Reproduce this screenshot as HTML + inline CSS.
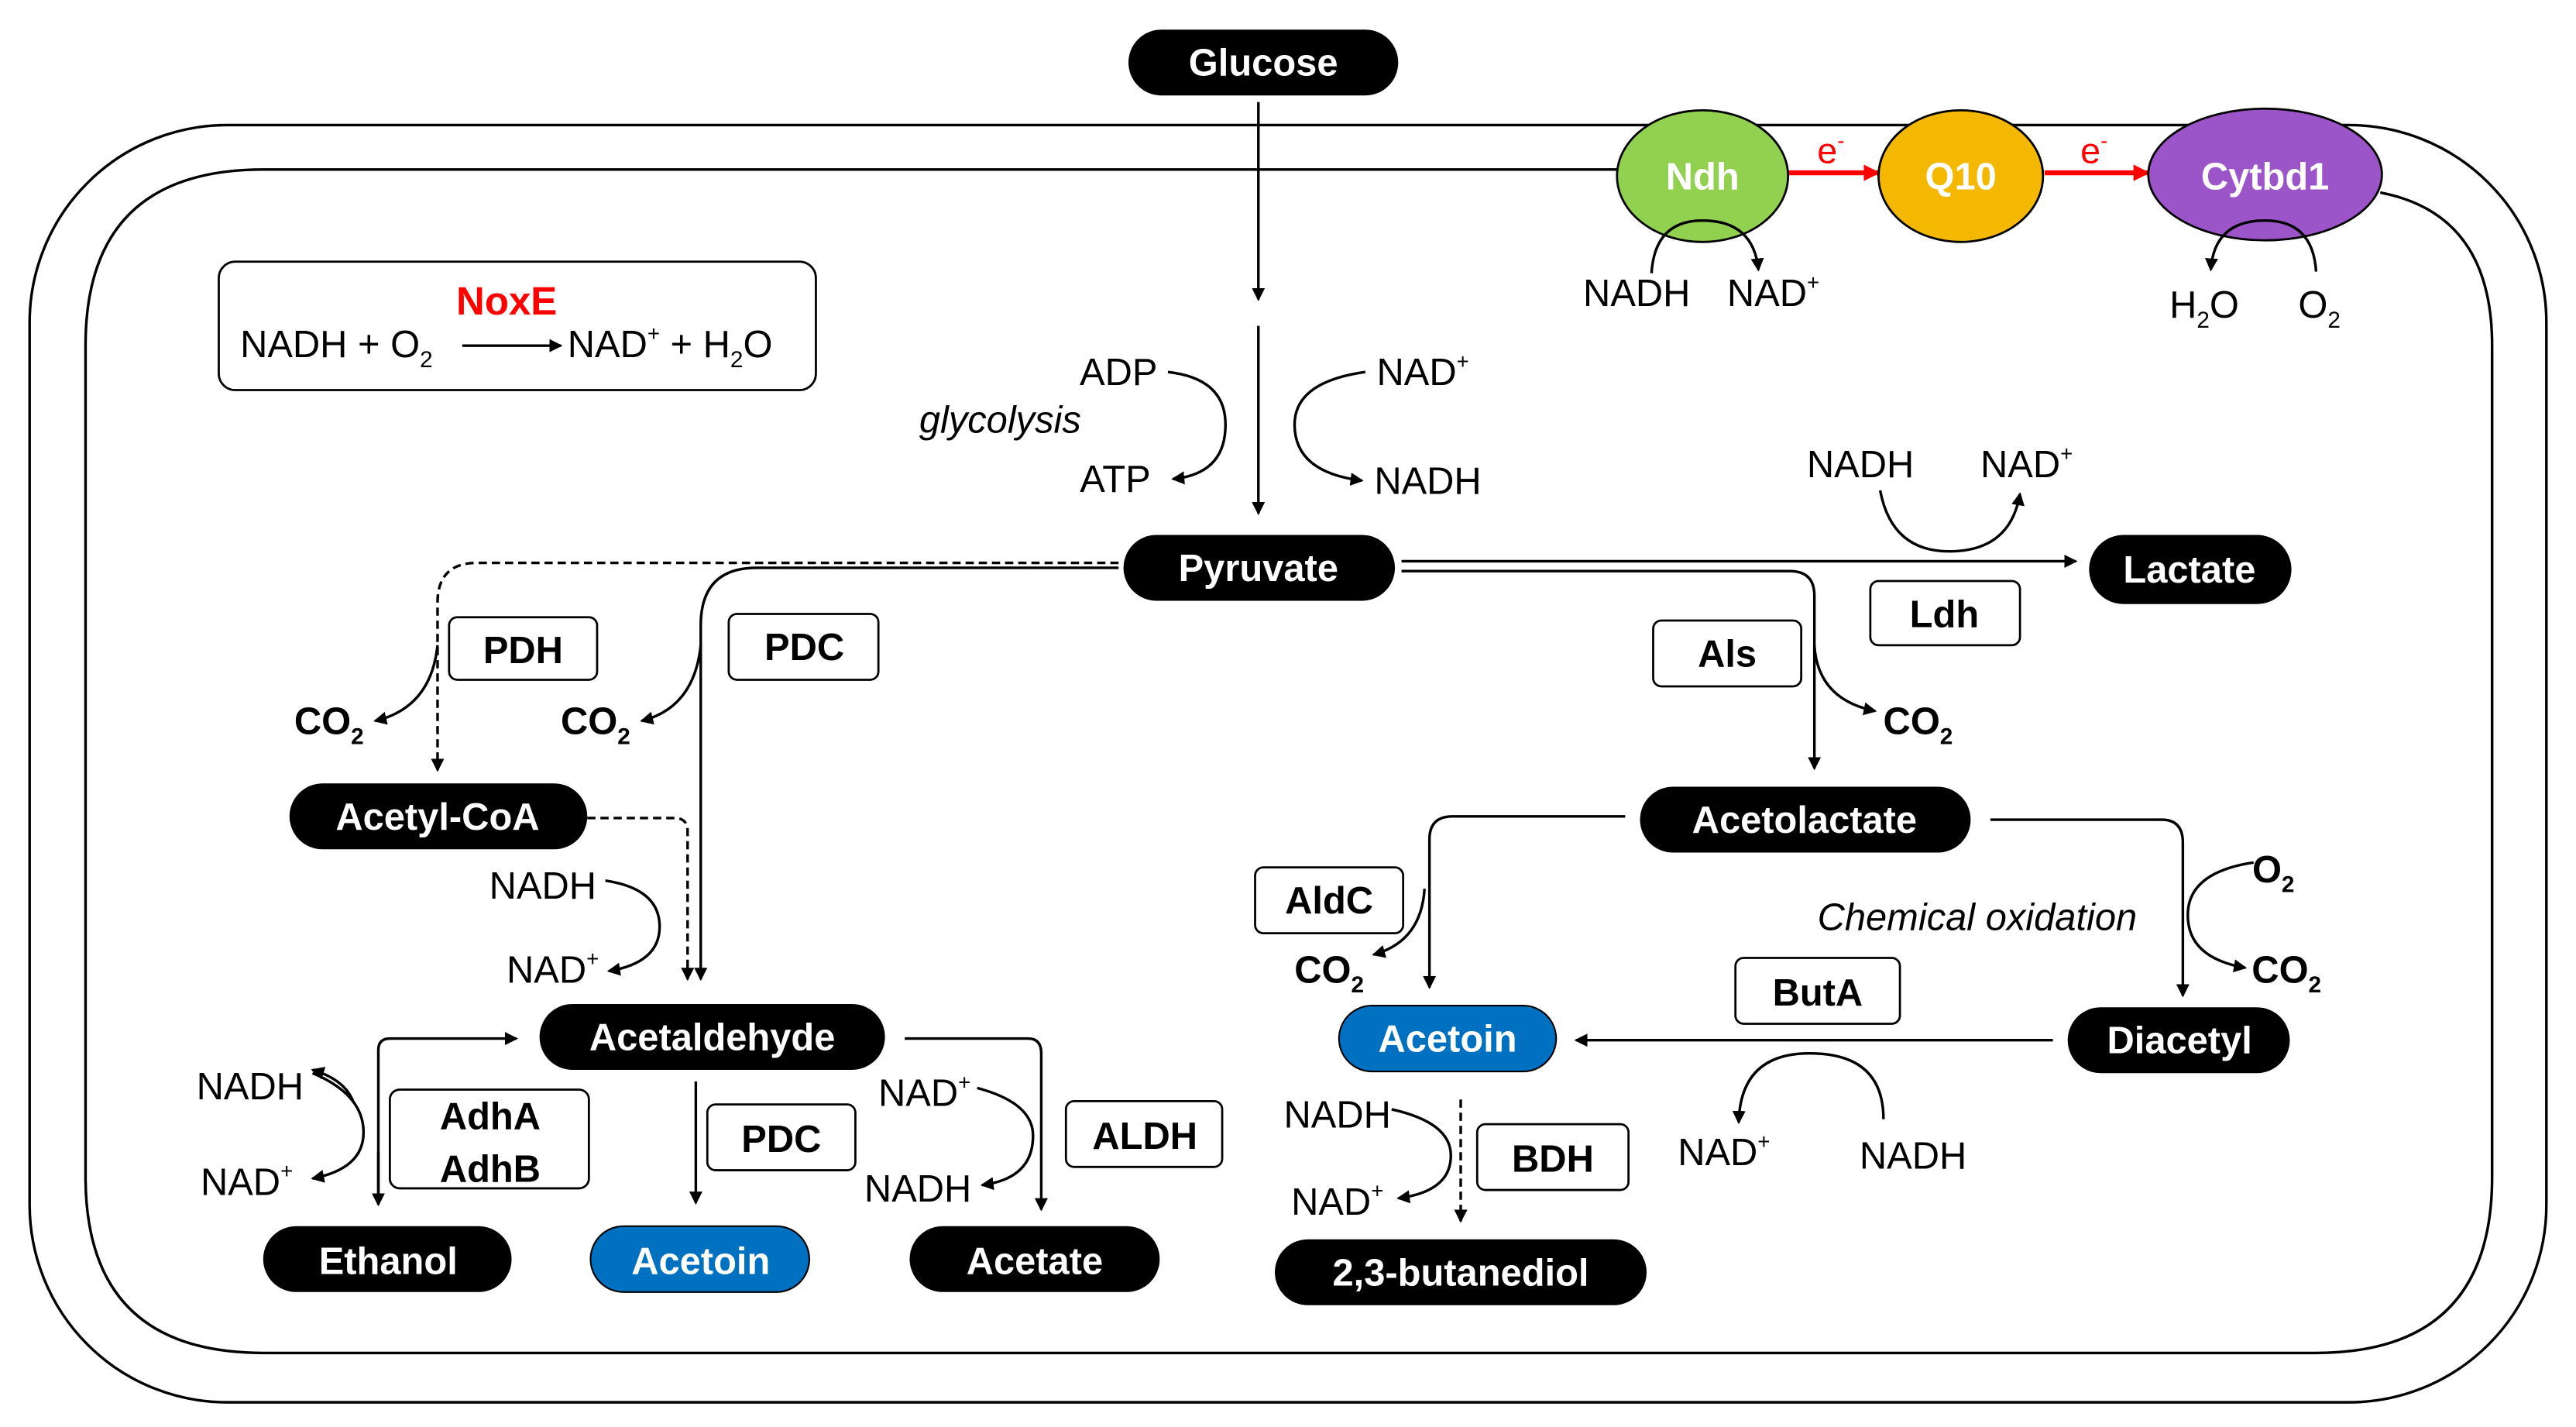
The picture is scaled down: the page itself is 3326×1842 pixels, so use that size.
<!DOCTYPE html>
<html><head><meta charset="utf-8"><style>
html,body{margin:0;padding:0;background:#fff;}
svg{display:block;}
text{font-family:"Liberation Sans Narrow","Liberation Sans",sans-serif;}
.n{fill:#fff;font-weight:bold;font-size:23px;text-anchor:middle;}
.t{fill:#000;font-size:23px;text-anchor:middle;}
.b{fill:#000;font-size:23px;font-weight:bold;text-anchor:middle;}
.l{fill:none;stroke:#000;stroke-width:1.6;}
.d{fill:none;stroke:#000;stroke-width:1.6;stroke-dasharray:5,3;}
.box{fill:#fff;stroke:#000;stroke-width:1.3;}
</style></head><body>
<svg width="3326" height="1842" viewBox="0 0 1566 867" preserveAspectRatio="none" xmlns="http://www.w3.org/2000/svg">
<defs>
<marker id="a" markerWidth="8" markerHeight="8" refX="7" refY="4" orient="auto" markerUnits="userSpaceOnUse"><path d="M0,0 L8,4 L0,8 Z" fill="#000"/></marker>
<marker id="r" markerWidth="10" markerHeight="10" refX="9" refY="5" orient="auto" markerUnits="userSpaceOnUse"><path d="M0,0 L10,5 L0,10 Z" fill="#f00"/></marker>
</defs>
<rect x="18" y="76" width="1530" height="776" rx="120" ry="120" fill="none" stroke="#000" stroke-width="1.6"/>
<path d="M985,103 L160,103 Q52,103 52,210 L52,715 Q52,822 160,822 L1408,822 Q1515,822 1515,715 L1515,210 Q1515,130 1447,117" fill="none" stroke="#000" stroke-width="1.6"/>
<rect x="686" y="18" width="164" height="40" rx="20" fill="#000"/><text class="n" x="768" y="46">Glucose</text>
<line class="l" x1="765" y1="62" x2="765" y2="182" marker-end="url(#a)"/>
<line class="l" x1="765" y1="198" x2="765" y2="312" marker-end="url(#a)"/>
<line x1="1087" y1="105" x2="1142" y2="105" stroke="#f00" stroke-width="3" marker-end="url(#r)"/>
<line x1="1243" y1="105" x2="1306" y2="105" stroke="#f00" stroke-width="3" marker-end="url(#r)"/>
<ellipse cx="1035" cy="107" rx="52" ry="40" fill="#92d050" stroke="#000" stroke-width="1.3"/>
<ellipse cx="1192" cy="107" rx="50" ry="40" fill="#f5b800" stroke="#000" stroke-width="1.3"/>
<ellipse cx="1377" cy="106" rx="71" ry="40" fill="#9b55c9" stroke="#000" stroke-width="1.3"/>
<text class="n" x="1035" y="115">Ndh</text><text class="n" x="1192" y="115">Q10</text><text class="n" x="1377" y="115">Cytbd1</text>
<text x="1113" y="99" fill="#f00" font-size="22" text-anchor="middle">e<tspan font-size="13" dy="-9">-</tspan></text>
<text x="1273" y="99" fill="#f00" font-size="22" text-anchor="middle">e<tspan font-size="13" dy="-9">-</tspan></text>
<path class="l" d="M1004,166 Q1006,134 1035,134 Q1066,134 1069,164" marker-end="url(#a)"/>
<text class="t" x="995" y="186">NADH</text><text class="t" x="1078" y="186">NAD<tspan font-size="13" dy="-10">+</tspan></text>
<path class="l" d="M1408,165 Q1406,134 1377,134 Q1346,134 1344,164" marker-end="url(#a)"/>
<text class="t" x="1340" y="193">H<tspan font-size="14" dy="6">2</tspan><tspan dy="-6">O</tspan></text>
<text class="t" x="1410" y="193">O<tspan font-size="14" dy="6">2</tspan></text>
<rect class="box" x="133" y="159" width="363" height="78" rx="10"/>
<text x="308" y="191" fill="#f00" font-weight="bold" font-size="24" text-anchor="middle">NoxE</text>
<text x="146" y="217" font-size="23">NADH + O<tspan font-size="14" dy="6">2</tspan></text>
<line class="l" x1="281" y1="210" x2="341" y2="210" marker-end="url(#a)"/>
<text x="345" y="217" font-size="23">NAD<tspan font-size="13" dy="-10">+</tspan><tspan dy="10"> + H</tspan><tspan font-size="14" dy="6">2</tspan><tspan dy="-6">O</tspan></text>
<text class="t" x="680" y="234">ADP</text>
<text x="608" y="263" font-size="23" font-style="italic" text-anchor="middle">glycolysis</text>
<text class="t" x="678" y="299">ATP</text>
<path class="l" d="M710,226 Q745,230 745,258 Q745,288 713,291" marker-end="url(#a)"/>
<text class="t" x="865" y="234">NAD<tspan font-size="13" dy="-10">+</tspan></text>
<text class="t" x="868" y="300">NADH</text>
<path class="l" d="M830,226 Q787,232 787,258 Q787,287 828,292" marker-end="url(#a)"/>
<rect x="683" y="325" width="165" height="40" rx="20" fill="#000"/><text class="n" x="765" y="353">Pyruvate</text>
<line class="l" x1="852" y1="341" x2="1262" y2="341" marker-end="url(#a)"/>
<rect x="1270" y="325" width="123" height="42" rx="21" fill="#000"/><text class="n" x="1331" y="354">Lactate</text>
<path class="l" d="M1143,298 Q1150,335 1185,335 Q1222,335 1228,300" marker-end="url(#a)"/>
<text class="t" x="1131" y="290">NADH</text><text class="t" x="1232" y="290">NAD<tspan font-size="13" dy="-10">+</tspan></text>
<rect class="box" x="1137" y="353" width="91" height="39" rx="5"/><text class="b" x="1182" y="381">Ldh</text>
<path class="l" d="M852,347 L1088,347 Q1103,347 1103,362 L1103,467" marker-end="url(#a)"/>
<rect class="box" x="1005" y="377" width="90" height="40" rx="5"/><text class="b" x="1050" y="405">Als</text>
<path class="l" d="M1103,392 Q1105,425 1140,432" marker-end="url(#a)"/>
<text class="b" x="1166" y="446">CO<tspan font-size="14" dy="6">2</tspan></text>
<rect x="997" y="478" width="201" height="40" rx="20" fill="#000"/><text class="n" x="1097" y="506">Acetolactate</text>
<path class="d" d="M680,342 L290,342 Q266,342 266,366 L266,468" marker-end="url(#a)"/>
<rect class="box" x="273" y="375" width="90" height="38" rx="5"/><text class="b" x="318" y="403">PDH</text>
<path class="l" d="M266,392 Q262,430 228,438" marker-end="url(#a)"/>
<text class="b" x="200" y="446">CO<tspan font-size="14" dy="6">2</tspan></text>
<path class="l" d="M680,345 L460,345 Q426,345 426,380 L426,595" marker-end="url(#a)"/>
<rect class="box" x="443" y="373" width="91" height="40" rx="5"/><text class="b" x="489" y="401">PDC</text>
<path class="l" d="M426,392 Q422,430 390,438" marker-end="url(#a)"/>
<text class="b" x="362" y="446">CO<tspan font-size="14" dy="6">2</tspan></text>
<rect x="176" y="476" width="181" height="40" rx="20" fill="#000"/><text class="n" x="266" y="504">Acetyl-CoA</text>
<path class="d" d="M357,497 L410,497 Q418,497 418,505 L418,595" marker-end="url(#a)"/>
<text class="t" x="330" y="546">NADH</text><text class="t" x="336" y="597">NAD<tspan font-size="13" dy="-10">+</tspan></text>
<path class="l" d="M368,535 Q401,540 401,563 Q401,585 370,590" marker-end="url(#a)"/>
<rect x="328" y="610" width="210" height="40" rx="20" fill="#000"/><text class="n" x="433" y="638">Acetaldehyde</text>
<path class="l" d="M230,731 L230,638 Q230,631 237,631 L314,631" marker-end="url(#a)"/>
<line class="l" x1="230" y1="700" x2="230" y2="732" marker-end="url(#a)"/>
<path class="l" d="M190,652 Q221,665 221,688 Q221,710 190,716" marker-end="url(#a)"/>
<path class="l" d="M215,670 Q210,656 190,650" marker-end="url(#a)"/>
<text class="t" x="152" y="668">NADH</text><text class="t" x="150" y="726">NAD<tspan font-size="13" dy="-10">+</tspan></text>
<rect class="box" x="237" y="662" width="121" height="60" rx="6"/>
<text class="b" x="298" y="686">AdhA</text><text class="b" x="298" y="718">AdhB</text>
<line class="l" x1="423" y1="657" x2="423" y2="731" marker-end="url(#a)"/>
<rect class="box" x="430" y="671" width="90" height="40" rx="5"/><text class="b" x="475" y="700">PDC</text>
<path class="l" d="M550,631 L625,631 Q633,631 633,640 L633,735" marker-end="url(#a)"/>
<text class="t" x="562" y="672">NAD<tspan font-size="13" dy="-10">+</tspan></text><text class="t" x="558" y="730">NADH</text>
<path class="l" d="M594,661 Q628,670 628,690 Q628,716 597,720" marker-end="url(#a)"/>
<rect class="box" x="648" y="669" width="95" height="40" rx="5"/><text class="b" x="696" y="698">ALDH</text>
<rect x="160" y="745" width="151" height="40" rx="20" fill="#000"/><text class="n" x="236" y="774">Ethanol</text>
<rect x="359" y="745" width="133" height="40" rx="20" fill="#0070c0" stroke="#000" stroke-width="1"/><text class="n" x="426" y="774">Acetoin</text>
<rect x="553" y="745" width="152" height="40" rx="20" fill="#000"/><text class="n" x="629" y="774">Acetate</text>
<path class="l" d="M988,496 L883,496 Q869,496 869,510 L869,600" marker-end="url(#a)"/>
<rect class="box" x="763" y="527" width="90" height="40" rx="5"/><text class="b" x="808" y="555">AldC</text>
<path class="l" d="M866,540 Q864,572 835,580" marker-end="url(#a)"/>
<text class="b" x="808" y="597">CO<tspan font-size="14" dy="6">2</tspan></text>
<path class="l" d="M1210,498 L1314,498 Q1327,498 1327,512 L1327,605" marker-end="url(#a)"/>
<path class="l" d="M1370,524 Q1330,530 1330,556 Q1330,582 1365,588" marker-end="url(#a)"/>
<text class="b" x="1382" y="536">O<tspan font-size="14" dy="6">2</tspan></text>
<text class="b" x="1390" y="597">CO<tspan font-size="14" dy="6">2</tspan></text>
<text x="1202" y="565" font-size="23" font-style="italic" text-anchor="middle">Chemical oxidation</text>
<rect x="1257" y="612" width="135" height="40" rx="20" fill="#000"/><text class="n" x="1325" y="640">Diacetyl</text>
<line class="l" x1="1248" y1="632" x2="958" y2="632" marker-end="url(#a)"/>
<rect class="box" x="1055" y="582" width="100" height="40" rx="5"/><text class="b" x="1105" y="611">ButA</text>
<path class="l" d="M1145,680 Q1145,640 1100,640 Q1058,640 1057,682" marker-end="url(#a)"/>
<text class="t" x="1048" y="708">NAD<tspan font-size="13" dy="-10">+</tspan></text><text class="t" x="1163" y="710">NADH</text>
<rect x="814" y="611" width="132" height="40" rx="20" fill="#0070c0" stroke="#000" stroke-width="1"/><text class="n" x="880" y="639">Acetoin</text>
<text class="t" x="813" y="685">NADH</text><text class="t" x="813" y="738">NAD<tspan font-size="13" dy="-10">+</tspan></text>
<path class="l" d="M846,674 Q882,682 882,702 Q882,724 850,728" marker-end="url(#a)"/>
<line class="d" x1="888" y1="668" x2="888" y2="742" marker-end="url(#a)"/>
<rect class="box" x="898" y="683" width="92" height="40" rx="5"/><text class="b" x="944" y="712">BDH</text>
<rect x="775" y="753" width="226" height="40" rx="20" fill="#000"/><text class="n" x="888" y="781">2,3-butanediol</text>
</svg>
</body></html>
